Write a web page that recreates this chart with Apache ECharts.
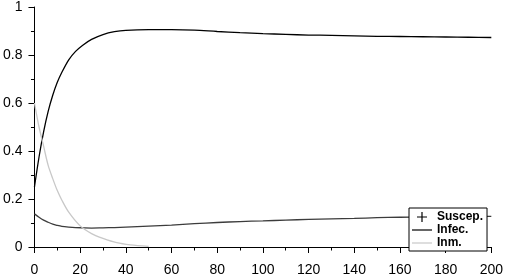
<!DOCTYPE html>
<html>
<head>
<meta charset="utf-8">
<script src="https://cdn.jsdelivr.net/npm/echarts@6/dist/echarts.min.js"></script>
<style>html,body{margin:0;padding:0;background:#fff}#c{width:506px;height:277px}</style>
</head>
<body>
<div id="c"></div>
<script>
var timeA = [0,2,4,6,8,10,12,15,18,21,25,30,35,40,50,60,70,80,90,100,110,120,130,140,150,160,170,180,190,200];
var infec = [0.25,0.375,0.48,0.565,0.632,0.686,0.728,0.78,0.815,0.84,0.865,0.885,0.897,0.903,0.906,0.906,0.904,0.898,0.893,0.889,0.886,0.883,0.882,0.880,0.878,0.877,0.876,0.875,0.874,0.873];
var suscep = [0.138,0.124,0.112,0.103,0.095,0.090,0.086,0.083,0.081,0.080,0.079,0.080,0.081,0.083,0.087,0.091,0.097,0.102,0.106,0.109,0.112,0.115,0.117,0.119,0.122,0.124,0.125,0.126,0.127,0.128];
var timeB = [0,2,4,6,8,10,12,15,20,25,30,36,42,50];
var inm = [0.6,0.5,0.42,0.34,0.285,0.235,0.195,0.145,0.088,0.056,0.036,0.018,0.009,0.003];
var xTicks = {min:0, max:200, interval:20};
var yTicks = {min:0, max:1, interval:0.2};
var names = ['Suscep.','Infec.','Inm.'];

function pairs(t, v){ return t.map(function(x,i){ return [x, v[i]]; }); }

var chart = echarts.init(document.getElementById('c'), null, {renderer:'canvas'});
var axisFont = {fontFamily:'Liberation Sans, Arial, sans-serif', fontSize:14, color:'#000'};
var linePath = 'path://M0,0h20v1.2h-20z';
chart.setOption({
  animation:false,
  backgroundColor:'#fff',
  grid:{left:32, top:6, right:14, bottom:27, containLabel:false},
  xAxis:{type:'value', min:xTicks.min, max:xTicks.max, interval:xTicks.interval,
    axisLine:{show:true, lineStyle:{color:'#000', width:1}},
    axisTick:{show:true, length:6, lineStyle:{color:'#000'}},
    minorTick:{show:true, splitNumber:2, length:3.5, lineStyle:{color:'#000'}},
    splitLine:{show:false},
    axisLabel:Object.assign({margin:16}, axisFont)},
  yAxis:{type:'value', min:yTicks.min, max:yTicks.max, interval:yTicks.interval,
    axisLine:{show:true, lineStyle:{color:'#000', width:1}},
    axisTick:{show:true, length:6, lineStyle:{color:'#000'}},
    minorTick:{show:true, splitNumber:2, length:3.5, lineStyle:{color:'#000'}},
    splitLine:{show:false},
    axisLabel:Object.assign({margin:12}, axisFont)},
  legend:{orient:'vertical', left:409, top:208,
    padding:[3,4,2,3], itemGap:1, itemWidth:20, itemHeight:10,
    backgroundColor:'#fff', borderColor:'#000', borderWidth:1, borderRadius:0,
    textStyle:{fontFamily:'Liberation Sans, Arial, sans-serif', fontSize:12, fontWeight:'bold', color:'#000', lineHeight:10},
    data:[
      {name:names[0], icon:'path://M0,4.4h10v1.2h-10z M4.4,0h1.2v10h-1.2z', itemStyle:{color:'#000'}},
      {name:names[1], icon:linePath, itemStyle:{color:'#000'}},
      {name:names[2], icon:linePath, itemStyle:{color:'#c8c8c8'}}
    ]},
  series:[
    {name:names[0], type:'line', data:pairs(timeA, suscep), symbol:'none', smooth:0.3,
      lineStyle:{color:'#3c3c3c', width:1.3}, itemStyle:{color:'#000'}},
    {name:names[1], type:'line', data:pairs(timeA, infec), symbol:'none', smooth:0.3,
      lineStyle:{color:'#000', width:1.3}, itemStyle:{color:'#000'}},
    {name:names[2], type:'line', data:pairs(timeB, inm), symbol:'none', smooth:0.3,
      lineStyle:{color:'#c8c8c8', width:1.3}, itemStyle:{color:'#c8c8c8'}}
  ]
});
</script>
</body>
</html>
